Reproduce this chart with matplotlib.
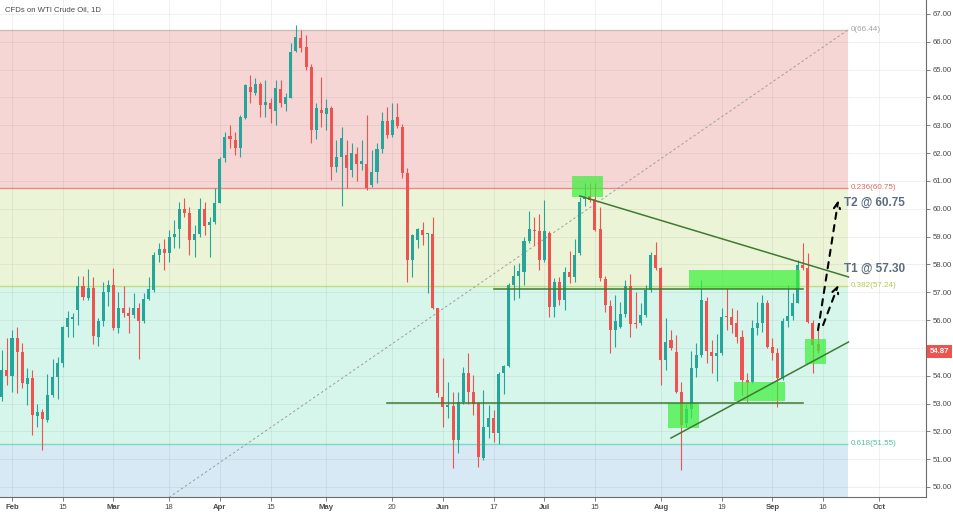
"""WTI crude CFD daily chart with fib retracement and trade annotations."""

import matplotlib

matplotlib.use("Agg")

import matplotlib.pyplot as plt
import matplotlib.transforms as mtransforms
import pandas as pd
from matplotlib.patches import Rectangle

# calendar: weekdays, the CFD was closed on Good Friday
CAL_START = "2018-12-20"
CAL_END = "2019-10-11"
CLOSED = ["2019-04-19"]
ORIGIN = "2019-02-01"
FIRST_BAR = "2019-01-30"

# daily OHLC, 2019-01-30 .. 2019-09-13
OPEN = [
    53.25, 54.20,
    54.00, 55.34, 54.84, 53.69, 53.90, 52.56, 52.68, 52.41, 53.30, 53.94,
    54.47, 55.76, 56.05, 56.36, 57.24, 56.80, 57.16, 55.40, 55.95, 57.00,
    57.26, 55.72, 56.44, 56.24, 56.18, 56.42, 55.98, 56.76, 57.08, 58.32,
    58.54, 58.40, 58.99, 59.27, 59.98, 59.86, 58.88, 59.08, 60.00, 59.41, 59.51,
    60.21, 61.81, 62.61, 62.47, 62.20, 63.27, 64.39, 64.17, 64.48, 63.73,
    63.79, 63.53, 64.30, 63.76, 63.99, 65.68, 66.12, 65.83, 65.10, 62.83, 63.55,
    63.40, 63.63, 61.51, 61.87, 61.93, 61.39, 61.96, 61.61, 61.61, 60.85,
    61.33, 62.14, 63.15, 62.65, 63.29, 62.95, 61.30, 58.16, 58.88, 59.22,
    59.10, 59.10, 56.42,
    53.24, 52.87, 52.90, 51.69, 53.07, 54.08, 53.42, 53.03, 51.03, 52.17,
    52.47, 51.93, 54.10, 54.35, 57.26, 57.58, 57.74, 58.85, 59.24, 59.21,
    58.16, 59.14, 56.48, 57.38, 56.72, 57.74, 57.53, 58.40, 60.35, 60.45,
    60.34, 59.26, 57.48, 56.50, 55.64, 55.74, 56.22, 57.22, 55.88, 55.90,
    56.18, 57.08, 58.34,
    57.86, 54.58, 55.30, 54.86, 53.42, 52.29, 52.82, 54.26, 54.74, 56.68,
    54.86, 54.70, 54.80, 56.14, 56.12, 55.88, 55.38, 53.84, 53.78, 55.70,
    55.88, 56.60,
    55.04, 54.80, 53.90, 55.98, 56.14, 56.62, 57.98, 57.86, 55.90, 55.14,
]
HIGH = [
    54.92, 55.34,
    55.64, 55.76, 55.19, 54.26, 54.20, 53.00, 52.79, 54.06, 54.59, 54.68,
    55.79, 56.32, 56.24, 57.58, 57.58, 57.82, 57.53, 56.06, 57.38, 57.44,
    57.86, 57.02, 57.22, 56.48, 56.98, 56.60, 56.96, 57.53, 58.46, 58.76,
    58.93, 59.24, 59.60, 60.25, 60.37, 60.07, 59.40, 60.37, 60.25, 59.71, 60.73,
    61.87, 62.77, 63.01, 62.77, 63.37, 64.48, 64.81, 64.69, 64.57, 64.63,
    63.97, 64.63, 64.63, 64.15, 65.97, 66.60, 66.42, 66.24, 65.20, 63.79, 64.75,
    63.93, 63.70, 62.47, 62.95, 62.47, 62.35, 62.21, 62.47, 63.37, 62.11,
    62.38, 63.49, 63.67, 63.81, 63.81, 63.05, 61.45, 59.10, 59.30, 59.54,
    59.14, 59.70, 56.45,
    54.62, 53.78, 53.42, 53.42, 54.32, 54.80, 54.02, 53.06, 53.48, 52.95,
    52.77, 54.14, 54.38, 57.32, 57.98, 58.06, 58.99, 59.93, 59.71, 59.81,
    60.30, 59.20, 57.50, 57.56, 57.92, 58.49, 58.93, 60.43, 60.94, 60.94,
    60.94, 60.07, 57.60, 56.72, 56.90, 56.66, 57.44, 57.65, 57.02, 56.60,
    57.26, 58.46, 58.82,
    57.90, 56.06, 55.64, 55.46, 53.78, 53.00, 54.90, 55.16, 57.44, 56.84,
    55.28, 55.50, 56.42, 57.14, 56.42, 56.36, 55.64, 54.08, 56.00, 56.66,
    56.90, 56.72,
    55.34, 54.98, 56.06, 57.26, 56.96, 58.16, 58.76, 58.40, 56.00, 55.64,
]
LOW = [
    53.10, 53.66,
    53.42, 53.36, 53.55, 52.95, 51.87, 52.17, 51.33, 52.35, 53.24, 53.15,
    54.32, 55.38, 55.38, 55.82, 56.72, 56.72, 55.14, 55.08, 55.80, 56.50,
    55.64, 55.55, 56.12, 55.52, 56.06, 54.59, 55.88, 56.72, 57.02, 58.10,
    57.80, 58.10, 58.58, 58.58, 59.70, 58.34, 58.25, 59.00, 59.06, 58.28, 59.47,
    60.19, 61.69, 62.17, 61.93, 61.87, 63.21, 63.79, 64.09, 63.31, 63.31,
    63.09, 63.01, 63.67, 63.53, 63.97, 65.65, 65.65, 64.99, 62.35, 62.50, 62.95,
    62.83, 61.03, 61.33, 60.10, 60.73, 61.13, 60.99, 61.39, 60.67, 60.79,
    60.91, 62.02, 62.53, 62.59, 62.89, 61.09, 57.38, 57.56, 58.58, 58.70,
    56.96, 56.40, 53.25,
    52.17, 52.47, 50.67, 51.21, 53.00, 53.00, 52.60, 50.73, 50.97, 51.75,
    51.63, 51.54, 53.34, 54.33, 56.72, 56.78, 57.26, 58.76, 58.70, 57.80,
    58.10, 56.12, 56.12, 56.54, 56.36, 57.32, 57.38, 58.34, 60.10, 60.25,
    59.20, 57.40, 56.30, 54.80, 55.04, 55.70, 56.12, 55.40, 55.70, 55.82,
    56.12, 57.02, 57.80,
    53.66, 54.20, 54.92, 53.36, 50.61, 52.17, 52.47, 53.96, 54.68, 54.44,
    54.08, 53.80, 54.74, 55.64, 55.52, 55.16, 53.30, 53.06, 53.72, 55.46,
    55.58, 54.98,
    54.56, 52.88, 53.84, 55.76, 56.00, 56.60, 57.80, 55.88, 54.08, 54.80,
]
CLOSE = [
    54.20, 54.00,
    55.34, 54.84, 53.72, 53.90, 52.58, 52.68, 52.43, 53.30, 53.94, 54.44,
    55.76, 56.06, 56.10, 57.24, 56.82, 57.16, 55.42, 55.98, 57.02, 57.26,
    55.72, 56.42, 56.24, 56.15, 56.42, 55.98, 56.76, 57.10, 58.34, 58.56,
    58.40, 58.97, 59.08, 59.98, 59.86, 58.88, 59.08, 60.00, 59.38, 59.52, 60.19,
    61.78, 62.59, 62.49, 62.20, 63.29, 64.45, 64.21, 64.48, 63.73, 63.85,
    63.57, 64.33, 63.79, 64.00, 65.65, 66.18, 65.77, 65.10, 62.83, 63.63, 63.45,
    63.63, 61.51, 61.87, 62.53, 61.45, 62.02, 61.61, 61.73, 60.73, 61.33,
    62.14, 63.15, 62.65, 63.19, 62.98, 61.30, 58.16, 59.06, 59.26, 59.06,
    59.11, 56.42, 53.37,
    52.86, 52.95, 51.69, 53.07, 54.08, 53.42, 53.00, 51.06, 52.17, 52.47,
    51.93, 54.06, 54.35, 57.26, 57.58, 57.76, 58.85, 59.26, 59.21, 58.16,
    59.20, 56.48, 57.38, 56.72, 57.74, 57.53, 58.34, 60.26, 60.45, 60.33,
    59.24, 57.50, 56.54, 55.64, 55.98, 56.22, 57.22, 55.86, 55.86, 56.18,
    57.08, 58.34, 57.86,
    54.56, 55.22, 54.98, 53.42, 52.23, 52.82, 54.26, 54.74, 56.72, 54.90,
    54.71, 54.82, 56.12, 56.10, 55.82, 55.38, 53.84, 53.75, 55.70, 55.88,
    56.62, 55.04,
    54.80, 53.90, 55.98, 56.14, 56.62, 57.98, 57.86, 55.94, 55.10, 54.87,
]
LAST_PRICE = 54.87

# fibonacci retracement drawn from the low anchor to the high anchor
FIB_START = "2018-12-26"
FIB_END = "2019-09-23"
FIB_LOW = 42.35
FIB_HIGH = 66.44
FIB_RATIOS = [0, 0.236, 0.382, 0.618, 1.0]
FIB_LINE_COLORS = ["#c9bdbd", "#e88a8a", "#c4dc7c", "#7fd8bf", "#7fb8d8"]
FIB_FILLS = ["#f6d5d5", "#ecf4d8", "#d6f5eb", "#d6e9f4"]
FIB_TEXT_COLORS = ["#a3a3a3", "#e06666", "#b3c94a", "#4fc29d"]

# drawings on the chart
BOXES = [  # start bar, end bar, low, high
    ("2019-07-09", "2019-07-16", 60.42, 61.18),
    ("2019-08-09", "2019-09-09", 57.12, 57.80),
    ("2019-08-05", "2019-08-12", 52.12, 53.02),
    ("2019-08-22", "2019-09-04", 53.09, 53.77),
    ("2019-09-11", "2019-09-16", 54.42, 55.32),
]
LINES = [  # start date, start price, end date, end price
    ("2019-06-17", 57.12, "2019-09-10", 57.12),
    ("2019-05-17", 53.03, "2019-09-10", 53.03),
    ("2019-07-10", 60.46, "2019-09-23", 57.55),
    ("2019-08-05", 51.76, "2019-09-23", 55.21),
]
ARROWS = [  # start date, start price, end date, end price
    ("2019-09-13", 55.64, "2019-09-19", 60.31),
    ("2019-09-16", 55.82, "2019-09-19", 57.26),
]
TARGETS = [("T2 @ 60.75", 60.22), ("T1 @ 57.30", 57.83)]
TARGET_DATE = "2019-09-19"

TICK_DATES = [
    "2019-02-01", "2019-02-15", "2019-03-01", "2019-03-18", "2019-04-01",
    "2019-04-15", "2019-05-01", "2019-05-20", "2019-06-03", "2019-06-17",
    "2019-07-01", "2019-07-15", "2019-08-01", "2019-08-19", "2019-09-02",
    "2019-09-16", "2019-10-01",
]
TICK_LABELS = [
    "Feb", "15", "Mar", "18", "Apr", "15", "May", "20", "Jun", "17",
    "Jul", "15", "Aug", "19", "Sep", "16", "Oct",
]
PRICE_TICKS = list(range(50, 68))

UP = "#26a69a"
DOWN = "#ef5350"


def main() -> None:
    cal = pd.bdate_range(CAL_START, CAL_END)
    cal = cal[~cal.isin(pd.to_datetime(CLOSED))]
    origin = cal.get_loc(pd.Timestamp(ORIGIN))
    pos = {d.strftime("%Y-%m-%d"): i - origin for i, d in enumerate(cal)}

    first = cal.get_loc(pd.Timestamp(FIRST_BAR)) - origin
    idx = [first + i for i in range(len(OPEN))]

    fig = plt.figure(figsize=(9.54, 5.13), dpi=100)
    ax = fig.add_axes([0, 16 / 513, 926 / 954, 497 / 513])
    ax.set_xlim(-2.37, 180.3)
    ax.set_ylim(49.64, 67.503)

    # fib zones and levels
    x0, x1 = pos[FIB_START], pos[FIB_END]
    levels = [FIB_HIGH - r * (FIB_HIGH - FIB_LOW) for r in FIB_RATIOS]
    for i, fill in enumerate(FIB_FILLS):
        ax.add_patch(
            Rectangle((x0, levels[i + 1]), x1 - x0, levels[i] - levels[i + 1],
                      facecolor=fill, edgecolor="none", zorder=0.1)
        )
    for lvl, col in zip(levels, FIB_LINE_COLORS):
        ax.hlines(lvl, x0, x1, color=col, lw=1.0, zorder=0.3)
    for r, lvl, col in zip(FIB_RATIOS[:4], levels[:4], FIB_TEXT_COLORS):
        txt = f"{r:g}({lvl:.2f})"
        ax.text(x1 + 0.4, lvl, txt, color=col, fontsize=5.8, va="center",
                ha="left", family="Liberation Sans")
    ax.plot([x0, x1], [FIB_LOW, FIB_HIGH], color="#9e9e9e", lw=0.7,
            ls=(0, (2.5, 2.5)), zorder=0.6)

    # grid
    ax.set_axisbelow(True)
    ax.grid(True, color="#7a7a7a", alpha=0.13, lw=0.6)

    # candles
    for x, o, h, l, c in zip(idx, OPEN, HIGH, LOW, CLOSE):
        col = UP if c >= o else DOWN
        ax.vlines(x, l, h, color=col, lw=0.8, zorder=2)
        body = max(abs(c - o), 0.03)
        ax.add_patch(Rectangle((x - 0.3, min(o, c)), 0.6, body,
                               facecolor=col, edgecolor="none", zorder=2.1))

    # green boxes
    for s, e, lo, hi in BOXES:
        ax.add_patch(Rectangle((pos[s] - 0.5, lo), pos[e] - pos[s] + 1, hi - lo,
                               facecolor="#3cf03c", alpha=0.72, edgecolor="none",
                               zorder=3))
    for s, p0, e, p1 in LINES:
        ax.plot([pos[s], pos[e]], [p0, p1], color="#3f7a33", lw=1.1, zorder=3.5)

    for s, p0, e, p1 in ARROWS:
        ax.annotate("", xy=(pos[e], p1), xytext=(pos[s], p0),
                    arrowprops=dict(arrowstyle="->,head_length=0.45,head_width=0.22",
                                    color="black", lw=1.5, ls=(0, (3, 3)),
                                    shrinkA=0, shrinkB=0), zorder=4)
    for txt, p in TARGETS:
        ax.text(pos[TARGET_DATE] + 1.1, p, txt, color="#5c6d80", fontsize=8.5,
                fontweight="bold", va="center", ha="left", family="Liberation Sans",
                zorder=5)

    # axes cosmetics
    for side in ("top", "left"):
        ax.spines[side].set_visible(False)
    for side in ("right", "bottom"):
        ax.spines[side].set_color("#6b6b6b")
        ax.spines[side].set_linewidth(0.8)

    ax.yaxis.tick_right()
    ax.set_yticks(PRICE_TICKS)
    ax.set_yticklabels(["" if v == 55 else f"{v:.2f}" for v in PRICE_TICKS])
    ax.set_xticks([pos[d] for d in TICK_DATES])
    ax.set_xticklabels(TICK_LABELS)
    ax.tick_params(axis="both", length=3, width=0.6, color="#6b6b6b",
                   labelsize=5.6, labelcolor="#4a4a4a", pad=2)
    for lab in ax.get_xticklabels():
        lab.set_family("Liberation Sans")
        if not lab.get_text().isdigit():
            lab.set_fontweight("bold")
    for lab in ax.get_yticklabels():
        lab.set_family("Liberation Sans")

    trans = mtransforms.blended_transform_factory(ax.transAxes, ax.transData)
    ax.text(1.0 + 4 / 926, LAST_PRICE, f"{LAST_PRICE:.2f}", transform=trans,
            color="white", fontsize=5.6, fontweight="bold", va="center", ha="left",
            family="Liberation Sans", clip_on=False, zorder=6,
            bbox=dict(boxstyle="square,pad=0.35", facecolor=DOWN, edgecolor="none"))

    fig.text(5 / 954, 1 - 10 / 513, "CFDs on WTI Crude Oil, 1D", color="#4a4a4a",
             fontsize=5.6, va="center", ha="left", family="Liberation Sans")

    fig.savefig("out.png", dpi=100)
    plt.close(fig)


if __name__ == "__main__":
    main()
